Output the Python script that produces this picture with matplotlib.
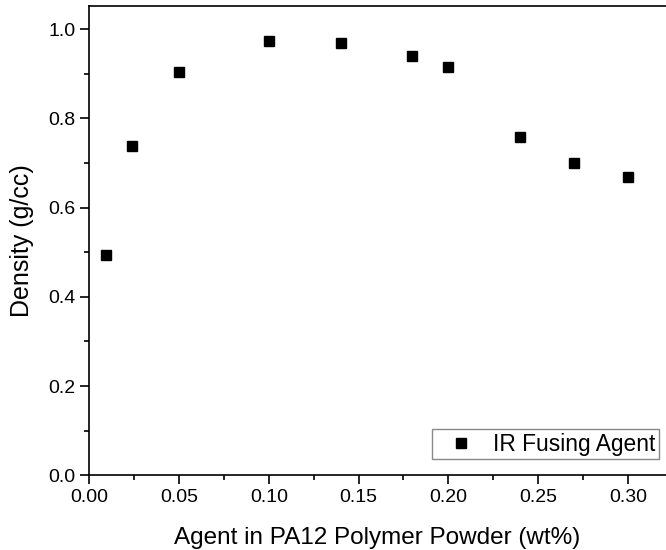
import matplotlib
matplotlib.use('Agg')
import matplotlib.pyplot as plt
from matplotlib.ticker import MultipleLocator

plt.rcParams['font.family'] = ['Liberation Sans', 'DejaVu Sans']

agent_wt = [0.0095, 0.024, 0.05, 0.10, 0.14, 0.18, 0.20, 0.24, 0.27, 0.30]
density = [0.493, 0.738, 0.903, 0.973, 0.969, 0.939, 0.915, 0.759, 0.701, 0.669]

fig = plt.figure(figsize=(6.66, 5.5), dpi=100)
ax = fig.add_axes([0.134, 0.136, 0.866, 0.853])

ax.plot(agent_wt, density, 's', color='black', markersize=7, label='IR Fusing Agent')

ax.set_xlim(0, 0.3213)
ax.set_ylim(0, 1.052)
ax.xaxis.set_major_locator(MultipleLocator(0.05))
ax.xaxis.set_minor_locator(MultipleLocator(0.025))
ax.yaxis.set_major_locator(MultipleLocator(0.2))
ax.yaxis.set_minor_locator(MultipleLocator(0.1))
ax.xaxis.set_major_formatter(plt.FormatStrFormatter('%.2f'))
ax.yaxis.set_major_formatter(plt.FormatStrFormatter('%.1f'))

ax.tick_params(which='major', direction='out', length=6.5, width=1.2, labelsize=14, top=False, right=False)
ax.tick_params(which='minor', direction='out', length=3.5, width=1.2, top=False, right=False)
for s in ax.spines.values():
    s.set_linewidth(1.2)
ax.spines['right'].set_visible(False)

ax.set_xlabel('Agent in PA12 Polymer Powder (wt%)', fontsize=17.5, labelpad=15)
ax.set_ylabel('Density (g/cc)', fontsize=18, labelpad=10)

leg = ax.legend(loc='lower right', bbox_to_anchor=(0.988, 0.034), fontsize=16.4,
                frameon=True, fancybox=False, edgecolor='#888888', framealpha=1,
                handletextpad=0.35, borderaxespad=0, borderpad=0.15,
                handlelength=2.17)
leg.get_frame().set_linewidth(1.0)

fig.savefig('out.png', dpi=100)
